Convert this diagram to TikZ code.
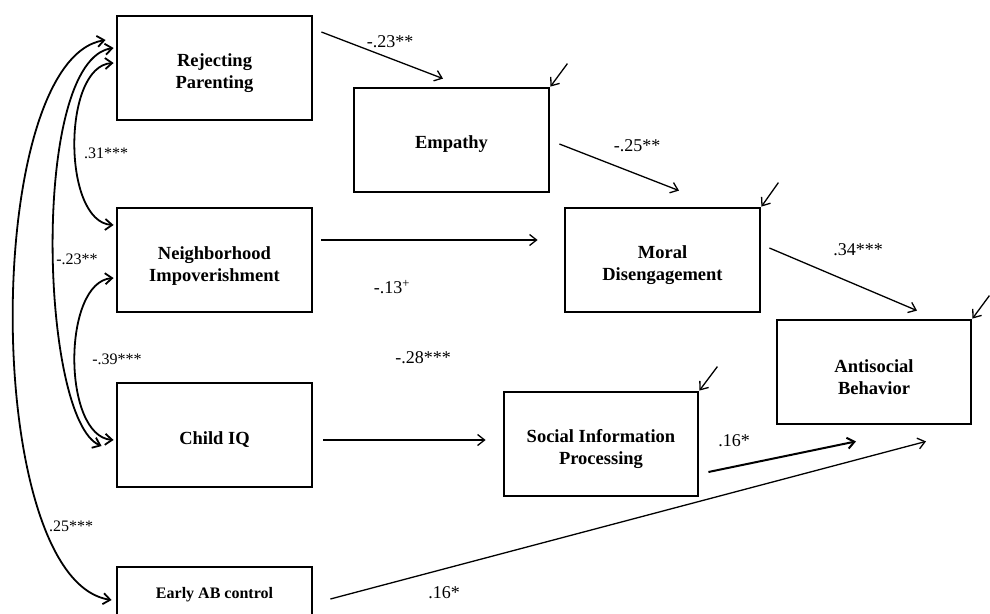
\documentclass[tikz,border=0pt]{standalone}
\usepackage{fontspec}
\setmainfont{Liberation Serif}
\usetikzlibrary{arrows.meta}
\begin{document}
\begin{tikzpicture}[x=1pt,y=-1pt,
 box/.style={draw, line width=2.8pt, minimum width=195pt, minimum height=104pt, inner sep=0pt, align=center, font=\fontsize{18.5}{22}\selectfont\bfseries},
 onel/.style={text height=21.5pt},
 twol/.style={text height=46pt},
 arr/.style={-{Straight Barb[length=7pt,width=11pt]}, line width=1.3pt},
 dbl/.style={{Straight Barb[length=7pt,width=11pt]}-{Straight Barb[length=7pt,width=11pt]}, line width=1.8pt},
 lbl/.style={inner sep=0pt, font=\fontsize{18}{20}\selectfont},
 llbl/.style={inner sep=0pt, font=\fontsize{16}{18}\selectfont}]
\useasboundingbox (0,0) rectangle (990,613);
\begin{scope}
\clip (0,0) rectangle (990,613);
% boxes
\node[box, twol] (rp) at (214.5,68) {Rejecting\\Parenting};
\node[box, twol] (ni) at (214.5,260) {Neighborhood\\Impoverishment};
\node[box, onel] (ciq) at (214.5,435) {Child IQ};
\node[box, minimum height=56pt, text height=11pt, font=\fontsize{16}{18}\selectfont\bfseries] (eab) at (214.5,595) {Early AB control};
\node[box, onel] (emp) at (451.5,140) {Empathy};
\node[box, twol] (md) at (662.5,260) {Moral\\Disengagement};
\node[box, twol, minimum width=194pt] (ab) at (874,372) {Antisocial\\Behavior};
\node[box, twol, minimum width=194pt] (sip) at (601,444) {Social Information\\Processing};
% directed paths
\draw[arr] ([xshift=8pt,yshift=36pt]rp.east) -- ([xshift=-8.5pt,yshift=8pt]emp.north);
\draw[arr] ([xshift=9pt,yshift=-4pt]emp.east) -- ([xshift=16.5pt,yshift=16pt]md.north);
\draw[arr] ([xshift=8pt,yshift=20pt]ni.east) -- ([xshift=-26pt,yshift=20pt]md.west);
\draw[arr] ([xshift=8pt,yshift=12pt]md.east) -- ([xshift=43pt,yshift=8pt]ab.north);
\draw[arr] ([xshift=10pt,yshift=-5pt]ciq.east) -- ([xshift=-17pt,yshift=4pt]sip.west);
\draw[arr, line width=2pt] ([xshift=9pt,yshift=-28pt]sip.east) -- ([xshift=-18pt,yshift=-16pt]ab.south);
\draw[arr] ([xshift=17pt,yshift=-4pt]eab.east) -- ([xshift=52pt,yshift=-16pt]ab.south);
% residuals
\coordinate (empr) at ([shift={(17pt,23pt)}]emp.north east);
\coordinate (mdr) at ([shift={(17pt,24pt)}]md.north east);
\coordinate (abr) at ([shift={(17pt,23pt)}]ab.north east);
\coordinate (sipr) at ([shift={(18pt,24pt)}]sip.north east);
\draw[arr] (empr) -- (emp.north east);
\draw[arr] (mdr) -- (md.north east);
\draw[arr] (abr) -- (ab.north east);
\draw[arr] (sipr) -- (sip.north east);
% correlations
\draw[dbl] ([xshift=-2pt,yshift=5pt]rp.west) .. controls (62,66) and (62,222) .. ([xshift=-2pt,yshift=35pt]ni.west);
\draw[dbl] ([xshift=-2pt,yshift=20pt]rp.west) .. controls (30,60) and (40,420) .. ([xshift=-14pt,yshift=-11pt]ciq.west);
\draw[dbl] ([xshift=-2pt,yshift=-18pt]ni.west) .. controls (62,282) and (62,436) .. ([xshift=-2pt,yshift=-5pt]ciq.west);
\draw[dbl] ([xshift=-10pt,yshift=28pt]rp.west) .. controls (-18,60) and (-19,580) .. ([xshift=-4pt,yshift=-5pt]eab.west);
% labels
\node[lbl] (l1) at (390,42) {-.23**};
\node[lbl] (l2) at (637,146) {-.25**};
\node[lbl] (l3) at (392,287) {-.13\textsuperscript{+}};
\node[lbl] (l4) at (858,250) {.34***};
\node[lbl] (l5) at (423,358) {-.28***};
\node[lbl] (l6) at (734,441) {.16*};
\node[lbl] (l7) at (444,593) {.16*};
\node[llbl] (l8) at (106,153) {.31***};
\node[llbl] (l9) at (77,259) {-.23**};
\node[llbl] (l10) at (117,359) {-.39***};
\node[llbl] (l11) at (71,526) {.25***};
\end{scope}
\end{tikzpicture}
\end{document}
